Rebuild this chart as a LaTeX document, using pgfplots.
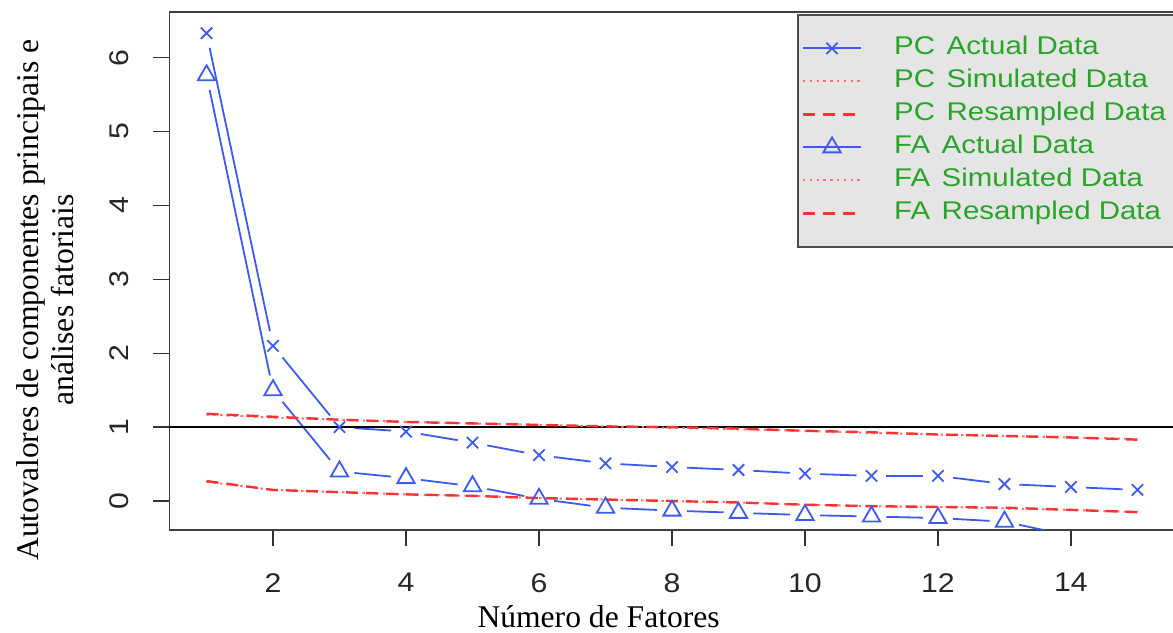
\documentclass[border=0pt]{standalone}
\usepackage{fontspec}
\setmainfont{Liberation Serif}
\newfontfamily\rsans[FakeStretch=1.12]{Liberation Sans}
\newfontfamily\rsansw[FakeStretch=1.15]{Liberation Sans}
\usepackage{pgfplots}
\pgfplotsset{compat=1.18}
\definecolor{pcblue}{RGB}{60,90,240}
\definecolor{rred}{RGB}{255,50,50}
\definecolor{lgreen}{RGB}{40,165,40}
\newcommand{\seg}[4]{\addplot[pcblue, line width=0.9bp, shorten <=7.5bp, shorten >=7.5bp, forget plot] coordinates {(#1,#2) (#3,#4)};}
\begin{document}
\begin{tikzpicture}
\clip (0,0) rectangle (586.5bp,316.5bp);
\begin{axis}[
  at={(84.65bp,51.5bp)}, anchor=south west,
  scale only axis, width=502.7bp, height=259bp,
  xmin=0.44, xmax=15.56, ymin=-0.392, ymax=6.617,
  xtick={2,4,...,14}, ytick={0,1,...,6},
  xtick pos=bottom, ytick pos=left,
  tick align=outside, major tick length=8bp,
  tick style={black!80, line width=0.7bp},
  axis line style={black!75, line width=0.8bp},
  /pgf/number format/assume math mode=true,
  xticklabel style={font=\rsans\fontsize{13.5bp}{13.5bp}\selectfont, text=black!85, inner sep=0bp, yshift=-13.5bp},
  yticklabel style={font=\rsans\fontsize{13.5bp}{13.5bp}\selectfont, text=black!85, inner sep=0bp, xshift=-12bp, rotate=90, anchor=south},
  xlabel={Número de Fatores},
  ylabel={Autovalores de componentes principais e\\análises fatoriais},
  xlabel style={at={(axis description cs:0.427,-0.168)}, anchor=center, font=\fontsize{15.8bp}{17.5bp}\selectfont},
  ylabel style={at={(axis description cs:-0.1232,0.444)}, anchor=center, align=center, font=\fontsize{15.8bp}{17.5bp}\selectfont},
  legend image code/.code={\draw[mark repeat=2,mark phase=2,#1] plot coordinates {(0bp,0bp) (14.5bp,0bp) (29bp,0bp)};},
  legend style={at={(axis description cs:1,0.996)}, anchor=north east, fill=black!10, draw=black!70, line width=0.8bp,
    font=\rsansw\fontsize{12.8bp}{14bp}\selectfont, text=lgreen, inner xsep=2bp, inner ysep=8.5bp,
    nodes={inner ysep=2.5bp, text height=9bp, text depth=2.5bp},
    /tikz/every odd column/.append style={column sep=14bp}},
  legend cell align=left,
]
% PC actual segments
\seg{1}{6.33}{2}{2.10}
\seg{2}{2.10}{3}{1.00}
\seg{3}{1.00}{4}{0.94}
\seg{4}{0.94}{5}{0.79}
\seg{5}{0.79}{6}{0.62}
\seg{6}{0.62}{7}{0.51}
\seg{7}{0.51}{8}{0.46}
\seg{8}{0.46}{9}{0.42}
\seg{9}{0.42}{10}{0.37}
\seg{10}{0.37}{11}{0.34}
\seg{11}{0.34}{12}{0.34}
\seg{12}{0.34}{13}{0.23}
\seg{13}{0.23}{14}{0.19}
\seg{14}{0.19}{15}{0.15}
% FA actual segments
\seg{1}{5.76}{2}{1.50}
\seg{2}{1.50}{3}{0.40}
\seg{3}{0.40}{4}{0.31}
\seg{4}{0.31}{5}{0.20}
\seg{5}{0.20}{6}{0.03}
\seg{6}{0.03}{7}{-0.09}
\seg{7}{-0.09}{8}{-0.13}
\seg{8}{-0.13}{9}{-0.16}
\seg{9}{-0.16}{10}{-0.19}
\seg{10}{-0.19}{11}{-0.21}
\seg{11}{-0.21}{12}{-0.23}
\seg{12}{-0.23}{13}{-0.28}
\seg{13}{-0.28}{14}{-0.47}
\seg{14}{-0.47}{15}{-0.48}
% marks
\addplot[pcblue, only marks, mark=x, mark size=4bp, line width=0.9bp, forget plot] coordinates {
(1,6.33) (2,2.10) (3,1.00) (4,0.94) (5,0.79) (6,0.62) (7,0.51) (8,0.46) (9,0.42) (10,0.37) (11,0.34) (12,0.34) (13,0.23) (14,0.19) (15,0.15)};
\addplot[pcblue, only marks, mark=triangle, mark size=5bp, line width=0.9bp, forget plot] coordinates {
(1,5.76) (2,1.50) (3,0.40) (4,0.31) (5,0.20) (6,0.03) (7,-0.09) (8,-0.13) (9,-0.16) (10,-0.19) (11,-0.21) (12,-0.23) (13,-0.28) (14,-0.47) (15,-0.48)};
% reference line
\addplot[black, line width=0.7bp, forget plot] coordinates {(0.44,1) (15.56,1)};
% simulated (dotted)
\addplot[rred!70, line width=1bp, dash pattern=on 1.2bp off 2.2bp, forget plot] coordinates {
(1,1.17) (2,1.13) (3,1.10) (4,1.07) (5,1.05) (6,1.03) (7,1.01) (8,0.99) (9,0.97) (10,0.95) (11,0.92) (12,0.90) (13,0.88) (14,0.86) (15,0.84)};
\addplot[rred!70, line width=1bp, dash pattern=on 1.2bp off 2.2bp, forget plot] coordinates {
(1,0.26) (2,0.15) (3,0.12) (4,0.09) (5,0.07) (6,0.04) (7,0.02) (8,0.00) (9,-0.02) (10,-0.05) (11,-0.07) (12,-0.08) (13,-0.10) (14,-0.12) (15,-0.15)};
% resampled (dashed)
\addplot[rred, line width=1.2bp, dash pattern=on 6bp off 4bp, forget plot] coordinates {
(1,1.18) (2,1.14) (3,1.10) (4,1.07) (5,1.05) (6,1.03) (7,1.01) (8,1.00) (9,0.98) (10,0.95) (11,0.93) (12,0.90) (13,0.88) (14,0.86) (15,0.83)};
\addplot[rred, line width=1.2bp, dash pattern=on 6bp off 4bp, forget plot] coordinates {
(1,0.27) (2,0.15) (3,0.12) (4,0.09) (5,0.07) (6,0.04) (7,0.02) (8,0.00) (9,-0.02) (10,-0.05) (11,-0.07) (12,-0.08) (13,-0.09) (14,-0.12) (15,-0.15)};
% legend
\addlegendimage{pcblue, line width=0.9bp, mark=x, mark size=4bp}
\addlegendentry{PC\hspace{0.45em}Actual Data}
\addlegendimage{rred!70, line width=1bp, dash pattern=on 1.2bp off 2.2bp}
\addlegendentry{PC\hspace{0.45em}Simulated Data}
\addlegendimage{rred, line width=1.2bp, dash pattern=on 6bp off 4bp}
\addlegendentry{PC\hspace{0.45em}Resampled Data}
\addlegendimage{pcblue, line width=0.9bp, mark=triangle, mark size=5bp}
\addlegendentry{FA\hspace{0.45em}Actual Data}
\addlegendimage{rred!70, line width=1bp, dash pattern=on 1.2bp off 2.2bp}
\addlegendentry{FA\hspace{0.45em}Simulated Data}
\addlegendimage{rred, line width=1.2bp, dash pattern=on 6bp off 4bp}
\addlegendentry{FA\hspace{0.45em}Resampled Data}
\end{axis}
\end{tikzpicture}
\end{document}
